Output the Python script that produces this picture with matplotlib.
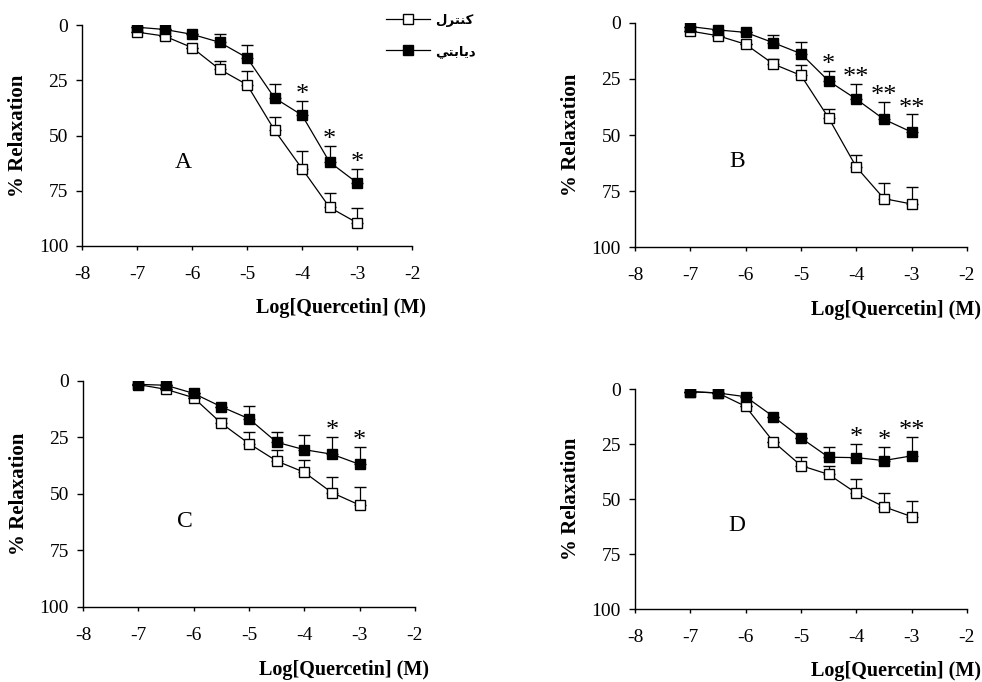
import matplotlib
matplotlib.use("Agg")
import matplotlib.pyplot as plt
from matplotlib.lines import Line2D
import numpy as np

# ---------------- data ----------------
log_conc = [-7, -6.5, -6, -5.5, -5, -4.5, -4, -3.5, -3]
panel_letters = ["A", "B", "C", "D"]

ctrl_A = [3.2, 5, 10.2, 20, 27, 47.6, 65, 82.5, 89.5]
ctrl_A_err = [0, 0, 0, 3.6, 6.4, 6, 8, 6.7, 6.5]
diab_A = [1, 2, 4.2, 7.8, 14.8, 33, 40.8, 62, 71.4]
diab_A_err = [0, 0, 0, 3.9, 5.9, 6.2, 6.6, 7.2, 6.4]
sig_A = ["", "", "", "", "", "", "*", "*", "*"]

ctrl_B = [3.6, 5.7, 9.5, 18.3, 23.4, 42.4, 64.3, 78.4, 80.8]
ctrl_B_err = [0, 0, 0, 2.4, 4.5, 4, 5.3, 6.8, 7.6]
diab_B = [1.6, 3.1, 4.2, 8.8, 13.7, 25.9, 34, 43, 48.7]
diab_B_err = [0, 0, 0, 3.6, 5.4, 4.6, 6.8, 7.6, 7.9]
sig_B = ["", "", "", "", "", "*", "**", "**", "**"]

ctrl_C = [1.6, 3.7, 7.4, 18.7, 27.7, 35.4, 40.4, 49.4, 54.9]
ctrl_C_err = [0, 0, 0, 2.2, 5.3, 4.9, 5.4, 6.9, 8]
diab_C = [1.5, 1.9, 5.5, 11.4, 16.7, 27.1, 30.4, 32.4, 36.9]
diab_C_err = [0, 0, 0, 0, 5.5, 4.7, 6.4, 7.8, 7.7]
sig_C = ["", "", "", "", "", "", "", "*", "*"]

ctrl_D = [1.2, 1.8, 7.9, 23.9, 34.8, 38.8, 47.3, 53.5, 58]
ctrl_D_err = [0, 0, 0, 0, 3.8, 3.8, 6.6, 6.4, 7.1]
diab_D = [1.2, 1.8, 3.5, 12.5, 22.2, 31, 31.2, 32.5, 30.4]
diab_D_err = [0, 0, 0, 0, 0, 4.7, 6.4, 6.2, 8.8]
sig_D = ["", "", "", "", "", "", "*", "*", "**"]

y_ticks = [0, 25, 50, 75, 100]
x_ticks = [-8, -7, -6, -5, -4, -3, -2]
label_control = "كنترل"
label_diabetic = "ديابتي"
ylabel = "% Relaxation"
xlabel = "Log[Quercetin] (M)"

# ------------- minimal Arabic shaping (logical -> visual presentation forms) -------------
FORMS = {  # iso, fin, ini, med
    "ك": ("\ufed9", "\ufeda", "\ufedb", "\ufedc"),
    "ن": ("\ufee5", "\ufee6", "\ufee7", "\ufee8"),
    "ت": ("\ufe95", "\ufe96", "\ufe97", "\ufe98"),
    "ر": ("\ufead", "\ufeae", None, None),
    "ل": ("\ufedd", "\ufede", "\ufedf", "\ufee0"),
    "د": ("\ufea9", "\ufeaa", None, None),
    "ي": ("\ufef1", "\ufef2", "\ufef3", "\ufef4"),
    "ا": ("\ufe8d", "\ufe8e", None, None),
    "ب": ("\ufe8f", "\ufe90", "\ufe91", "\ufe92"),
}


def shape(word):
    out = []
    n = len(word)
    for i, ch in enumerate(word):
        f = FORMS[ch]
        prev_joins = i > 0 and FORMS[word[i - 1]][2] is not None
        can_join_next = f[2] is not None and i < n - 1
        if prev_joins and can_join_next:
            out.append(f[3])
        elif prev_joins:
            out.append(f[1])
        elif can_join_next:
            out.append(f[2])
        else:
            out.append(f[0])
    return "".join(reversed(out))


# ---------------- figure ----------------
plt.rcParams["font.family"] = ["Liberation Serif", "DejaVu Sans"]
fig = plt.figure(figsize=(9.82, 6.82), dpi=100)

positions = [
    [0.0835, 0.6393, 0.3361, 0.3240],
    [0.6466, 0.6378, 0.3381, 0.3285],
    [0.0845, 0.1100, 0.3380, 0.3314],
    [0.6466, 0.1070, 0.3380, 0.3226],
]
panels = [
    (ctrl_A, ctrl_A_err, diab_A, diab_A_err, sig_A),
    (ctrl_B, ctrl_B_err, diab_B, diab_B_err, sig_B),
    (ctrl_C, ctrl_C_err, diab_C, diab_C_err, sig_C),
    (ctrl_D, ctrl_D_err, diab_D, diab_D_err, sig_D),
]

for pos, (c, ce, d, de, sig), letter in zip(positions, panels, panel_letters):
    ax = fig.add_axes(pos)
    ce_a = np.array(ce)
    de_a = np.array(de)
    ax.errorbar(log_conc, c, yerr=[ce_a, np.zeros_like(ce_a)], color="black", lw=0.9,
                marker="s", ms=6.5, mfc="white", mec="black", mew=1.0,
                ecolor="black", elinewidth=0.9, capsize=4, capthick=0.9, zorder=3)
    ax.errorbar(log_conc, d, yerr=[de_a, np.zeros_like(de_a)], color="black", lw=0.9,
                marker="s", ms=6.5, mfc="black", mec="black", mew=1.0,
                ecolor="black", elinewidth=0.9, capsize=4, capthick=0.9, zorder=4)
    for xv, yv, ev, s in zip(log_conc, d, de, sig):
        if s:
            ax.text(xv, yv - ev - 2.6, s, ha="center", va="center", fontsize=19,
                    color="black")
    ax.set_xlim(-8, -2)
    ax.set_ylim(100, 0)
    ax.set_xticks(x_ticks)
    ax.set_yticks(y_ticks)
    ax.set_xticklabels([str(t) for t in x_ticks])
    ax.set_yticklabels([str(t) for t in y_ticks])
    for side in ("top", "right"):
        ax.spines[side].set_visible(False)
    for side in ("left", "bottom"):
        ax.spines[side].set_linewidth(1.0)
    ax.tick_params(axis="y", direction="out", length=4, width=1, pad=6, labelsize=14)
    ax.tick_params(axis="x", direction="out", length=3, width=1, pad=11.5, labelsize=14)
    ax.text(-0.194, 0.5, ylabel, transform=ax.transAxes, rotation=90, ha="center",
            va="center", fontsize=15, fontweight="bold")
    ax.text(0.785, -0.28, xlabel, transform=ax.transAxes, ha="center", va="center",
            fontsize=14.5, fontweight="bold")
    ax.text(-6.15, 62, letter, ha="center", va="center", fontsize=17)

handles = [
    Line2D([], [], color="black", lw=0.9, marker="s", ms=6.5, mfc="white", mec="black"),
    Line2D([], [], color="black", lw=0.9, marker="s", ms=6.5, mfc="black", mec="black"),
]
leg = fig.legend(handles, [shape(label_control), shape(label_diabetic)],
                 loc="upper left", bbox_to_anchor=(386 / 982, 1 - 14 / 682),
                 frameon=False, handlelength=3.3, handletextpad=0.4, labelspacing=1.35,
                 borderpad=0, borderaxespad=0,
                 prop={"family": "DejaVu Sans", "weight": "bold", "size": 9.5})

fig.savefig("out.png", dpi=100, facecolor="white")
